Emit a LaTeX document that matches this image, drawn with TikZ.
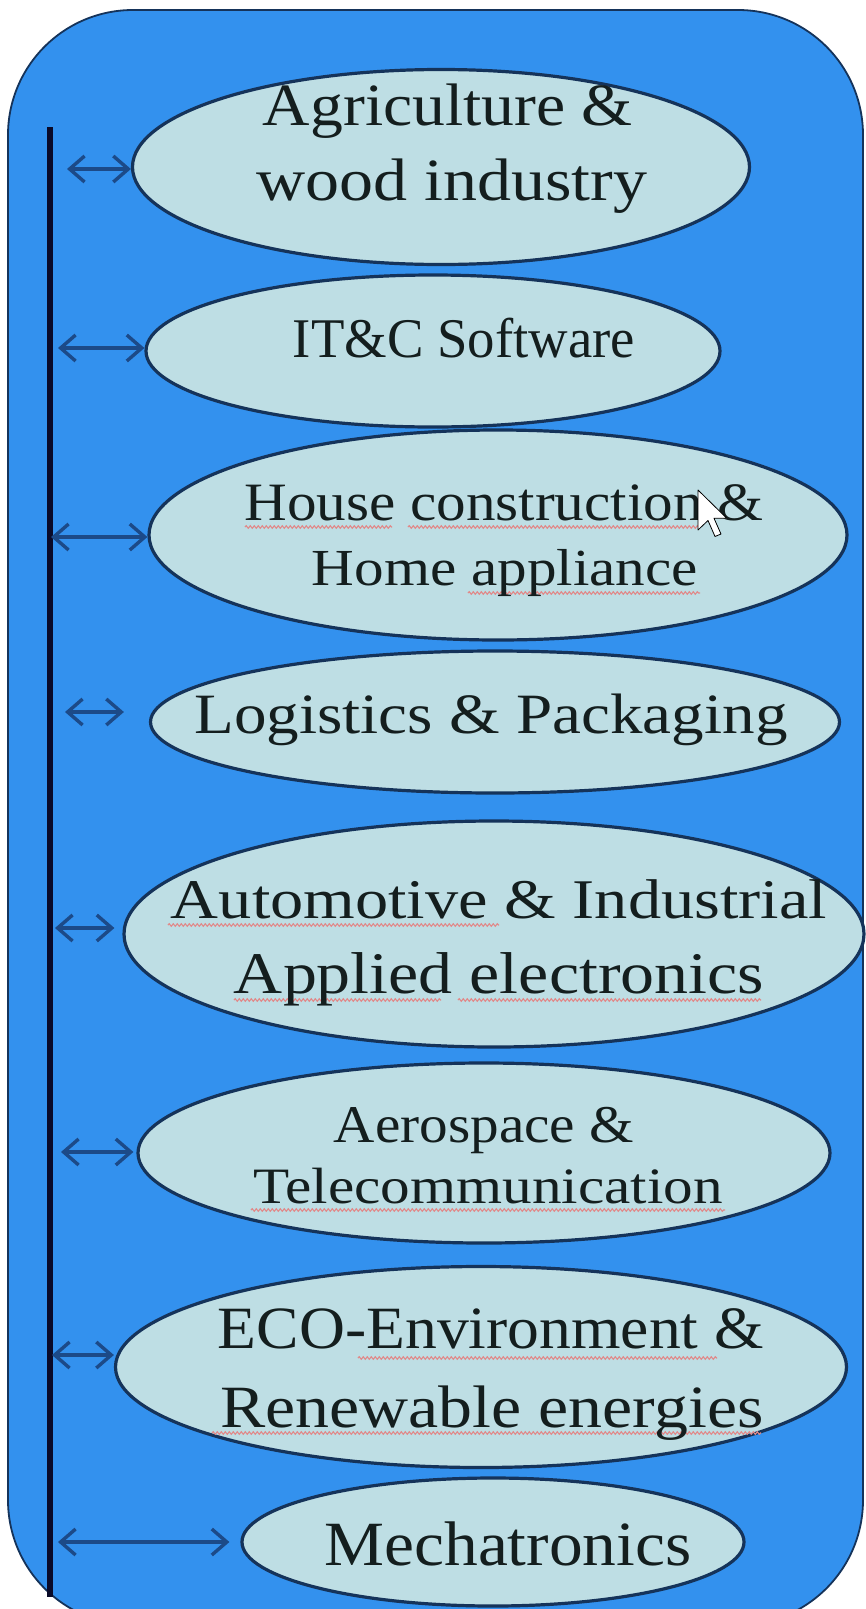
\documentclass[tikz,border=0pt]{standalone}
\usepackage{fontspec}
\setmainfont{Liberation Serif}
\usepackage{graphicx}
\usetikzlibrary{arrows.meta,decorations.pathmorphing,shapes.geometric,calc}

\definecolor{bgblue}{HTML}{3391EE}
\definecolor{ellfill}{HTML}{BEDEE4}
\definecolor{ellline}{HTML}{15335A}
\definecolor{arrcol}{HTML}{1C4A88}
\definecolor{spinecol}{HTML}{0A0A28}
\definecolor{txtcol}{HTML}{141E1E}
\definecolor{squig}{HTML}{E08A8A}

\newcommand{\fitline}[3]{\resizebox{#1pt}{\height}{\fontsize{#2}{#2}\selectfont #3}}

\begin{document}
\begin{tikzpicture}[x=1pt,y=-1pt,
  sector/.style={ellipse, draw=ellline, fill=ellfill, line width=3.2pt, inner sep=0pt},
  lbl/.style={anchor=base, inner sep=0pt, text=txtcol},
  link/.style={draw=arrcol, line width=3.4pt, {Straight Barb[length=15pt,width=26pt]}-{Straight Barb[length=15pt,width=26pt]}},
  spell/.style={draw=squig, line width=1.1pt, decorate, decoration={snake, amplitude=1.3pt, segment length=4pt}},
  spineline/.style={draw=spinecol, line width=5.5pt}
]
\useasboundingbox (0,0) rectangle (865,1609);
\fill[white] (0,0) rectangle (865,1609);
\begin{scope}
\clip (0,0) rectangle (865,1609);
\draw[fill=bgblue, draw=ellline, line width=1.8pt, rounded corners=125pt] (8,10) rectangle (863,1625);
\end{scope}

% ellipses
\node[sector, minimum width=617pt, minimum height=195pt] (e1) at (441,167) {};
\node[sector, minimum width=574pt, minimum height=152pt] (e2) at (433,351) {};
\node[sector, minimum width=698pt, minimum height=210pt] (e3) at (498,535) {};
\node[sector, minimum width=689pt, minimum height=142pt] (e4) at (495,722) {};
\node[sector, minimum width=740pt, minimum height=226pt] (e5) at (494,934) {};
\node[sector, minimum width=692pt, minimum height=180pt] (e6) at (484,1153) {};
\node[sector, minimum width=731pt, minimum height=201pt] (e7) at (481,1367) {};
\node[sector, minimum width=502pt, minimum height=128pt] (e8) at (493,1542) {};

% spine
\coordinate (sT) at (50,127);
\coordinate (sB) at (50,1597);
\draw[spineline] (sT) -- (sB);

% arrows
\coordinate (a1) at (67,169);
\coordinate (a2) at (58,348);
\coordinate (a3) at (51,537);
\coordinate (a4) at (65,712);
\coordinate (a5) at (55,928);
\coordinate (a6) at (61,1152);
\coordinate (a7) at (52,1355);
\coordinate (a8) at (58,1542);
\draw[link] (a1) -- (a1 -| e1.west);
\draw[link] (a2) -- (a2 -| e2.west);
\draw[link] (a3) -- (a3 -| e3.west);
\draw[link] (a4) -- ($(a4 -| e4.west)+(-25,0)$);
\draw[link] (a5) -- ($(a5 -| e5.west)+(-8,0)$);
\draw[link] (a6) -- ($(a6 -| e6.west)+(-3,0)$);
\draw[link] (a7) -- (a7 -| e7.west);
\draw[link] (a8) -- ($(a8 -| e8.west)+(-11,0)$);

% spell-check underlines
\draw[spell] (245,527) -- (392,527);
\draw[spell] (408,527) -- (700,527);
\draw[spell] (468,593) -- (700,593);
\draw[spell] (168,925) -- (499,925);
\draw[spell] (234,1000) -- (441,1000);
\draw[spell] (458,1000) -- (761,1000);
\draw[spell] (251,1210) -- (725,1210);
\draw[spell] (358,1358) -- (717,1358);
\draw[spell] (212,1433) -- (761,1433);

% labels
\node[lbl] (t1a) at (448,125) {\fitline{370}{60}{Agriculture \&}};
\node[lbl] (t1b) at (452,200) {\fitline{391}{60}{wood industry}};
\node[lbl] (t2)  at (464,357) {\fitline{342}{56}{IT\&C Software}};
\node[lbl] (t3a) at (504,520) {\fitline{519}{54}{House construction \&}};
\node[lbl] (t3b) at (505,585) {\fitline{386}{52}{Home appliance}};
\node[lbl] (t4)  at (491,733) {\fitline{593}{57}{Logistics \& Packaging}};
\node[lbl] (t5a) at (499,918) {\fitline{656}{56}{Automotive \& Industrial}};
\node[lbl] (t5b) at (499,993) {\fitline{530}{59}{Applied electronics}};
\node[lbl] (t6a) at (484,1142) {\fitline{300}{53}{Aerospace \&}};
\node[lbl] (t6b) at (488,1203) {\fitline{469}{51}{Telecommunication}};
\node[lbl] (t7a) at (491,1348) {\fitline{546}{60}{ECO-Environment \&}};
\node[lbl] (t7b) at (492,1427) {\fitline{543}{60}{Renewable energies}};
\node[lbl] (t8)  at (508,1565) {\fitline{367}{63}{Mechatronics}};

% mouse cursor
\begin{scope}[shift={(698,490)}, scale=2.5]
\draw[fill=white, draw=black, line width=0.8pt, line join=round]
  (0,0) -- (0,16) -- (4,12.2) -- (6.8,18.6) -- (9.2,17.6) -- (6.4,11.3) -- (11.5,11.3) -- cycle;
\end{scope}
\end{tikzpicture}
\end{document}
